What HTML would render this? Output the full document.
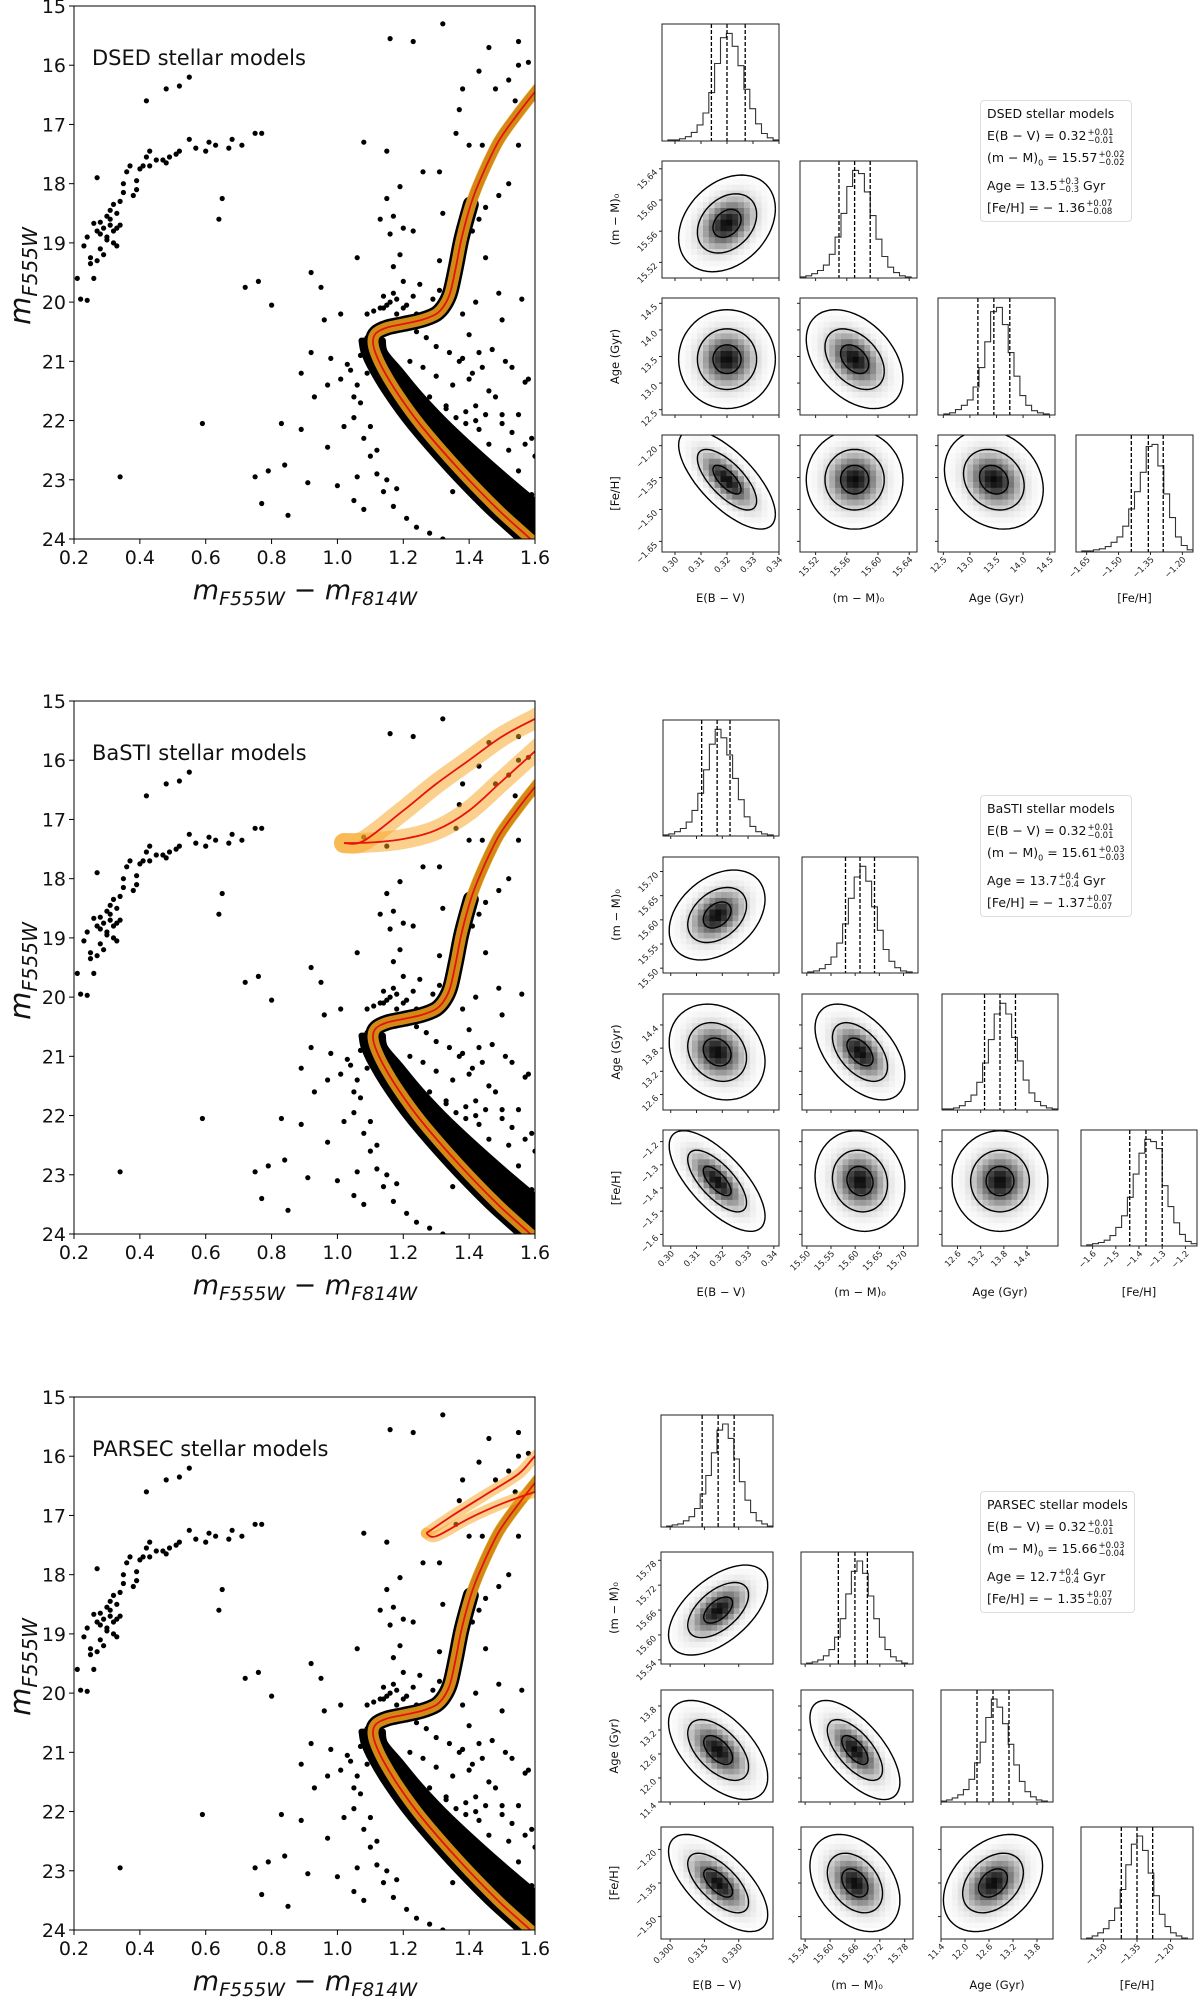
<!DOCTYPE html>
<html><head><meta charset="utf-8">
<style>
body{margin:0;background:#fff;}
#wrap{position:relative;width:1200px;height:2005px;overflow:hidden;font-family:"DejaVu Sans","Liberation Sans",sans-serif;}
svg{position:absolute;left:0;top:0;}
.leg{position:absolute;border:1px solid #ddd;border-radius:4px;padding:2px 6px;font-size:12.5px;line-height:22px;color:#111;background:#fff;}
.ss{display:inline-block;vertical-align:middle;font-size:8.5px;line-height:8px;margin-left:1px;}
.ss span{display:block;}
</style></head>
<body>
<div id="wrap">
<svg id="fig" width="1200" height="2005" xmlns="http://www.w3.org/2000/svg"></svg>

<div class="leg" style="left:980px;top:100px;">
<div>DSED stellar models</div>
<div>E(B − V) = 0.32<span class="ss"><span>+0.01</span><span>−0.01</span></span></div>
<div>(m − M)<sub style="font-size:8px">0</sub> = 15.57<span class="ss"><span>+0.02</span><span>−0.02</span></span></div>
<div>Age = 13.5<span class="ss"><span>+0.3</span><span>−0.3</span></span> Gyr</div>
<div>[Fe/H] = − 1.36<span class="ss"><span>+0.07</span><span>−0.08</span></span></div>
</div>
<div class="leg" style="left:980px;top:795px;">
<div>BaSTI stellar models</div>
<div>E(B − V) = 0.32<span class="ss"><span>+0.01</span><span>−0.01</span></span></div>
<div>(m − M)<sub style="font-size:8px">0</sub> = 15.61<span class="ss"><span>+0.03</span><span>−0.03</span></span></div>
<div>Age = 13.7<span class="ss"><span>+0.4</span><span>−0.4</span></span> Gyr</div>
<div>[Fe/H] = − 1.37<span class="ss"><span>+0.07</span><span>−0.07</span></span></div>
</div>
<div class="leg" style="left:980px;top:1491px;">
<div>PARSEC stellar models</div>
<div>E(B − V) = 0.32<span class="ss"><span>+0.01</span><span>−0.01</span></span></div>
<div>(m − M)<sub style="font-size:8px">0</sub> = 15.66<span class="ss"><span>+0.03</span><span>−0.04</span></span></div>
<div>Age = 12.7<span class="ss"><span>+0.4</span><span>−0.4</span></span> Gyr</div>
<div>[Fe/H] = − 1.35<span class="ss"><span>+0.07</span><span>−0.07</span></span></div>
</div>
</div>
<script>
// ---------- CMD data ----------
const isoColor = [1.62,1.586,1.489,1.372,1.256,1.186,1.14,1.115,1.108,1.118,1.15,1.2,1.256,1.3,1.325,1.343,1.36,1.378,1.405,1.437,1.489,1.548,1.6,1.63];
const isoMag   = [24.2,24.0,23.51,22.84,22.1,21.57,21.15,20.85,20.65,20.52,20.43,20.37,20.3,20.2,20.05,19.83,19.4,18.9,18.35,17.89,17.29,16.82,16.45,16.25];
const bastiBranchAColor = [1.02,1.1,1.2,1.3,1.4,1.5,1.6,1.65];
const bastiBranchAMag   = [17.4,17.39,17.33,17.18,16.85,16.35,15.85,15.6];
const bastiBranchBColor = [1.02,1.08,1.2,1.3,1.4,1.5,1.6,1.65];
const bastiBranchBMag   = [17.4,17.36,16.85,16.4,16.0,15.6,15.3,15.15];
const parsecBranchAColor = [1.27,1.35,1.45,1.55,1.6,1.65];
const parsecBranchAMag   = [17.3,17.0,16.65,16.3,16.0,15.8];
const parsecBranchBColor = [1.27,1.3,1.4,1.5,1.6,1.65];
const parsecBranchBMag   = [17.3,17.35,17.05,16.8,16.6,16.5];
const starColor = [0.21,0.22,0.24,0.23,0.24,0.25,0.26,0.26,0.27,0.27,0.28,0.28,0.29,0.29,0.30,0.30,0.31,0.31,0.32,0.32,0.33,0.33,0.34,0.34,0.35,0.35,0.36,0.37,0.38,0.39,0.39,0.40,0.41,0.42,0.43,0.43,0.45,0.47,0.48,0.49,0.51,0.52,0.55,0.57,0.60,0.61,0.63,0.67,0.68,0.71,0.75,0.77,0.42,0.48,0.52,0.55,0.25,0.27,0.30,0.31,0.33,0.28,0.32,
0.34,0.59,0.64,0.65,0.72,0.76,0.80,0.75,0.77,0.79,0.83,0.84,0.85,0.89,0.89,0.91,0.92,0.92,0.93,0.95,0.96,0.97,0.97,0.98,1.0,1.01,1.01,1.02,1.05,1.06,1.06,1.08,1.08,1.09,1.13,1.15,1.15,1.16,1.16,1.17,1.19,1.2,1.23,1.23,1.26,1.32,1.31,1.32,1.36,1.37,1.38,1.40,1.43,1.44,1.46,1.48,1.49,1.5,1.52,1.54,1.55,1.55,1.56,1.58,1.55,1.45,1.47,1.43,1.38,1.40,1.35,1.30,1.28,1.33,1.42,1.48,1.50,1.55,1.58,1.59,1.52,1.46,1.43,1.39,1.36,1.55,1.59,1.57,1.30,1.26,1.22,1.20,1.18,1.16,1.14,1.23,1.25,1.29,1.40,1.38,1.42,1.46,1.53,1.57,1.12,1.10,1.05,1.03,1.15,1.18,1.07,1.09,1.21,1.24,1.27,1.34,1.37,1.41,1.44,1.51,1.35,1.31,1.19,1.17,
1.04,1.06,1.07,1.05,1.08,1.10,1.12,1.14,1.17,1.21,1.24,1.28,1.32,1.35,1.39,1.42,1.45,1.48,1.50,1.53,1.56,1.58,1.33,1.30,1.27,1.29,1.32,1.35,1.37,1.40,1.34,1.31,1.36,1.38,1.41,1.43,1.45,1.49,1.52,1.09,1.11,1.13,1.15,1.20,1.18,1.21,1.14,1.17,1.26,1.24,1.28,1.45,1.50,1.53,1.57,1.60,1.36,1.39,1.42];
const starMag = [19.6,19.95,19.97,19.05,18.9,19.35,19.6,18.67,17.9,18.8,19.1,18.65,18.75,19.2,18.55,18.9,18.45,18.7,18.35,18.8,18.5,19.05,18.3,18.7,18.0,18.15,17.8,17.7,18.2,17.95,18.1,17.75,17.7,17.55,17.45,17.7,17.6,17.6,17.65,17.55,17.5,17.45,17.25,17.4,17.45,17.3,17.35,17.4,17.25,17.35,17.15,17.15,16.6,16.4,16.35,16.2,19.25,19.3,18.95,18.6,18.75,18.85,19.0,
22.95,22.05,18.6,18.25,19.75,19.65,20.05,22.95,23.4,22.85,22.05,22.75,23.6,21.2,22.15,23.05,19.5,20.85,21.6,19.75,20.3,21.4,22.45,20.95,23.1,20.2,21.3,22.1,23.35,19.25,22.95,17.3,23.5,20.6,18.6,17.45,18.25,15.55,18.85,18.55,18.05,18.75,15.6,18.8,17.8,15.3,17.8,18.5,17.15,16.75,16.4,17.35,16.1,17.35,15.7,16.4,19.85,20.3,16.25,16.6,15.6,16.0,19.95,15.95,17.35,19.25,20.8,20.85,20.95,21.3,21.4,21.25,21.6,21.75,21.75,21.6,21.9,21.9,21.3,22.3,22.5,22.4,22.15,22.05,22.3,22.85,23.25,23.5,20.75,21.1,21.0,19.65,19.95,20.0,20.1,19.9,19.7,19.95,20.55,20.2,20.0,21.5,21.1,21.35,22.5,22.1,21.6,21.05,23.0,23.15,20.9,21.2,20.45,20.5,20.6,20.85,21.0,21.2,21.1,21.0,19.5,19.3,19.2,19.4,
21.15,21.4,21.7,21.95,22.3,22.6,22.9,23.2,23.45,23.65,23.8,23.9,24.0,23.2,23.0,22.6,22.8,23.1,23.4,23.6,23.7,23.85,21.8,21.9,22.05,22.4,22.7,22.9,22.55,22.75,19.6,19.8,19.3,19.0,18.8,18.6,18.4,18.2,18.0,20.2,20.15,20.1,20.05,20.1,20.2,20.05,19.9,19.85,20.25,20.2,20.3,21.9,22.05,22.2,22.4,22.6,21.95,21.85,22.0];

// ---------- corner data (per model) ----------
const paramNames = ["E(B − V)","(m − M)₀","Age (Gyr)","[Fe/H]"];
const rangeLo_DSED = [0.295,15.50,12.4,-1.70];
const rangeHi_DSED = [0.340,15.65,14.6,-1.15];
const rangeLo_BaSTI = [0.297,15.49,12.2,-1.65];
const rangeHi_BaSTI = [0.342,15.73,15.2,-1.15];
const rangeLo_PARSEC = [0.296,15.53,11.4,-1.60];
const rangeHi_PARSEC = [0.345,15.80,14.2,-1.10];
const ticks_DSED = [["0.30","0.31","0.32","0.33","0.34"],["15.52","15.56","15.60","15.64"],["12.5","13.0","13.5","14.0","14.5"],["−1.65","−1.50","−1.35","−1.20"]];
const ticks_BaSTI = [["0.30","0.31","0.32","0.33","0.34"],["15.50","15.55","15.60","15.65","15.70"],["12.6","13.2","13.8","14.4"],["−1.6","−1.5","−1.4","−1.3","−1.2"]];
const ticks_PARSEC = [["0.300","0.315","0.330"],["15.54","15.60","15.66","15.72","15.78"],["11.4","12.0","12.6","13.2","13.8"],["−1.50","−1.35","−1.20"]];
const mean_DSED = [0.320,15.570,13.45,-1.36];
const sigma_DSED = [0.006,0.020,0.30,0.075];
const corr_DSED = [0.3,0.0,-0.4,-0.7,0.0,-0.2]; // (0,1)(0,2)(1,2)(0,3)(1,3)(2,3)
const mean_BaSTI = [0.318,15.61,13.7,-1.37];
const sigma_BaSTI = [0.006,0.030,0.40,0.070];
const corr_BaSTI = [0.35,-0.2,-0.5,-0.7,-0.1,0.0];
const mean_PARSEC = [0.321,15.66,12.7,-1.35];
const sigma_PARSEC = [0.007,0.035,0.40,0.070];
const corr_PARSEC = [0.55,-0.55,-0.65,-0.65,-0.35,0.35];
const q16_DSED=[0.314,15.550,13.15,-1.44], q50_DSED=[0.320,15.570,13.45,-1.36], q84_DSED=[0.327,15.590,13.75,-1.29];
const q16_BaSTI=[0.312,15.580,13.3,-1.44], q50_BaSTI=[0.318,15.610,13.7,-1.37], q84_BaSTI=[0.323,15.640,14.1,-1.30];
const q16_PARSEC=[0.314,15.620,12.3,-1.42], q50_PARSEC=[0.321,15.660,12.7,-1.35], q84_PARSEC=[0.328,15.690,13.1,-1.28];
const hist_DSED = [[0,1,1,2,4,8,15,26,45,72,96,100,88,70,48,30,16,7,3,1],[1,2,4,7,12,22,38,60,85,100,97,80,58,36,20,10,5,2,1,0],[0,1,2,5,9,14,26,44,68,96,100,84,58,36,18,9,4,2,1,0],[0,1,1,2,3,5,9,14,24,40,56,74,98,100,80,54,32,14,6,2]];
const hist_BaSTI = [[1,2,4,7,13,24,40,62,86,100,92,76,54,34,18,9,4,2,1,0],[0,1,2,4,8,15,28,46,70,90,100,86,62,40,22,11,5,2,1,0],[1,1,2,4,8,14,26,44,66,90,100,90,68,46,28,16,8,4,2,1],[0,1,2,3,5,9,16,26,42,62,80,92,90,84,52,34,20,10,4,2]];
const hist_PARSEC = [[0,1,2,3,6,10,18,32,50,72,94,100,86,66,44,26,14,6,3,1],[0,1,2,4,8,14,26,44,68,90,100,88,66,44,26,14,7,3,1,0],[1,2,4,7,12,22,38,58,82,100,92,76,56,36,20,10,5,2,1,0],[0,1,3,6,10,18,30,48,72,92,100,86,64,42,24,12,6,3,1,0]];

const NS="http://www.w3.org/2000/svg";
const svg=document.getElementById('fig');
function mk(tag,attrs,parent){const e=document.createElementNS(NS,tag);for(const k in attrs)e.setAttribute(k,attrs[k]);(parent||svg).appendChild(e);return e;}
function smoothPath(pts){
 if(pts.length<2)return '';
 let d='M'+pts[0][0].toFixed(1)+','+pts[0][1].toFixed(1);
 for(let i=0;i<pts.length-1;i++){
  const p0=pts[Math.max(0,i-1)],p1=pts[i],p2=pts[i+1],p3=pts[Math.min(pts.length-1,i+2)];
  const c1=[p1[0]+(p2[0]-p0[0])/6,p1[1]+(p2[1]-p0[1])/6];
  const c2=[p2[0]-(p3[0]-p1[0])/6,p2[1]-(p3[1]-p1[1])/6];
  d+='C'+c1[0].toFixed(1)+','+c1[1].toFixed(1)+' '+c2[0].toFixed(1)+','+c2[1].toFixed(1)+' '+p2[0].toFixed(1)+','+p2[1].toFixed(1);
 }
 return d;
}

// ---------- CMD panels ----------
const cmdL=74,cmdR=535,cmdH=533;
const models=[
 {key:'dsed',label:'DSED stellar models',top:6,branches:[]},
 {key:'basti',label:'BaSTI stellar models',top:701,branches:[[bastiBranchAColor,bastiBranchAMag],[bastiBranchBColor,bastiBranchBMag]]},
 {key:'parsec',label:'PARSEC stellar models',top:1397,branches:[[parsecBranchAColor,parsecBranchAMag],[parsecBranchBColor,parsecBranchBMag]]}
];
models.forEach((m,pi)=>{
 const top=m.top;
 const sx=c=>cmdL+(c-0.2)/1.4*(cmdR-cmdL);
 const sy=v=>top+(v-15)/9*cmdH;
 const g=mk('g',{});
 
 
 const cp=mk('clipPath',{id:'cmdclip'+pi},g);
 mk('rect',{x:cmdL,y:top,width:cmdR-cmdL,height:cmdH},cp);
 const plot=mk('g',{'clip-path':'url(#cmdclip'+pi+')'},g);
 const pathFrom=(cs,ms,off,filt)=>{const pts=[];for(let i=0;i<cs.length;i++){if(filt&&!filt(ms[i]))continue;pts.push([sx(cs[i]+off),sy(ms[i])]);}return smoothPath(pts);};
 const leftPts=[],rightPts=[];
 for(let i=0;i<isoColor.length;i++){
  const v=isoMag[i]; if(v<20.55)continue;
  const rOff=v>20.9?0.04+0.04*(v-20.9):0.03;
  leftPts.push([sx(isoColor[i]-0.035),sy(v)]);
  rightPts.push([sx(isoColor[i]+rOff),sy(v)]);
 }
 const lp=smoothPath(leftPts), rp=smoothPath(rightPts.slice().reverse()).replace(/^M/,'L');
 let e=mk('path',{d:lp+rp+'Z',fill:'#000',stroke:'#000','stroke-width':6,'stroke-linejoin':'round'},plot);
  
 e=mk('path',{d:pathFrom(isoColor,isoMag,0,v=>v<=20.9&&v>=18.3),fill:'none',stroke:'#000','stroke-width':16,'stroke-linejoin':'round','stroke-linecap':'round'},plot);
  
 e=mk('path',{d:pathFrom(isoColor,isoMag,0,v=>v<=18.6),fill:'none',stroke:'#000','stroke-width':10,'stroke-linejoin':'round'},plot);
  
 for(let i=0;i<starColor.length;i++){
  const c=mk('circle',{cx:sx(starColor[i]).toFixed(1),cy:sy(starMag[i]).toFixed(1),r:2.6,fill:'#000'},plot);
  
  
 }
 const all=[[isoColor,isoMag]].concat(m.branches);
 all.forEach((b,bi)=>{
  const w=bi===0?11:(m.key==='basti'?20:11);
  const ob=mk('path',{d:pathFrom(b[0],b[1],0),fill:'none',stroke:'#f7a21b','stroke-width':w,'stroke-opacity':bi===0?0.85:0.5,'stroke-linejoin':'round','stroke-linecap':'round'},plot);
  
  
 });
 all.forEach(b=>{
  const rl=mk('path',{d:pathFrom(b[0],b[1],0),fill:'none',stroke:'#e8120c','stroke-width':1.8,'stroke-linejoin':'round'},plot);
  
  
 });
 e=mk('rect',{x:cmdL,y:top,width:cmdR-cmdL,height:cmdH,fill:'none',stroke:'#000','stroke-width':1},g);
  
 for(let v=15;v<=24;v++){
  mk('line',{x1:cmdL-5,x2:cmdL,y1:sy(v),y2:sy(v),stroke:'#000'},g);
  const t=mk('text',{x:cmdL-8,y:sy(v)+7,'text-anchor':'end','font-size':19,fill:'#111'},g);
  t.textContent=v;
   
 }
 ['0.2','0.4','0.6','0.8','1.0','1.2','1.4','1.6'].forEach(s=>{
  const c=parseFloat(s);
  mk('line',{x1:sx(c),x2:sx(c),y1:top+cmdH,y2:top+cmdH+5,stroke:'#000'},g);
  const t=mk('text',{x:sx(c),y:top+cmdH+25,'text-anchor':'middle','font-size':19,fill:'#111'},g);
  t.textContent=s;
   
 });
 let t=mk('text',{x:92,y:top+59,'font-size':21,fill:'#111'},g);
 t.textContent=m.label;
  
 t=mk('text',{x:305,y:top+cmdH+60,'text-anchor':'middle','font-size':27,'font-style':'italic',fill:'#111'},g);
 t.innerHTML='m<tspan font-size="19" dy="6">F555W</tspan><tspan dy="-6" font-style="normal"> − </tspan>m<tspan font-size="19" dy="6">F814W</tspan>';
  
 t=mk('text',{x:0,y:0,'text-anchor':'middle','font-size':29,'font-style':'italic',fill:'#111',transform:'translate(30,'+(top+270)+') rotate(-90)'},g);
 t.innerHTML='m<tspan font-size="20" dy="7">F555W</tspan>';
  
});

// ---------- corner plots ----------
const corners=[
 {key:'dsed',cols:[662,800,938,1076],rows:[24,161,298,435],s:117,lo:rangeLo_DSED,hi:rangeHi_DSED,ticks:ticks_DSED,mean:mean_DSED,sig:sigma_DSED,corr:corr_DSED,q16:q16_DSED,q50:q50_DSED,q84:q84_DSED,hist:hist_DSED},
 {key:'basti',cols:[663,802,942,1081],rows:[720,857,994,1130],s:116,lo:rangeLo_BaSTI,hi:rangeHi_BaSTI,ticks:ticks_BaSTI,mean:mean_BaSTI,sig:sigma_BaSTI,corr:corr_BaSTI,q16:q16_BaSTI,q50:q50_BaSTI,q84:q84_BaSTI,hist:hist_BaSTI},
 {key:'parsec',cols:[661,801,941,1081],rows:[1415,1552,1690,1827],s:112,lo:rangeLo_PARSEC,hi:rangeHi_PARSEC,ticks:ticks_PARSEC,mean:mean_PARSEC,sig:sigma_PARSEC,corr:corr_PARSEC,q16:q16_PARSEC,q50:q50_PARSEC,q84:q84_PARSEC,hist:hist_PARSEC}
];
const corrIdx={'0,1':0,'0,2':1,'1,2':2,'0,3':3,'1,3':4,'2,3':5};
corners.forEach((C,ci)=>{
 const S=C.s;
 const g=mk('g',{});
 
 
 for(let i=0;i<4;i++)for(let j=0;j<=i;j++){
  const x0=C.cols[j],y0=C.rows[i];
  const ax=v=>x0+(v-C.lo[j])/(C.hi[j]-C.lo[j])*S;
  const ay=v=>y0+S-(v-C.lo[i])/(C.hi[i]-C.lo[i])*S;
  const cg=mk('g',{},g);
  
  
  const clipId='cc'+ci+'_'+i+'_'+j;
  const cp=mk('clipPath',{id:clipId},cg);
  mk('rect',{x:x0,y:y0,width:S,height:S},cp);
  const inner=mk('g',{'clip-path':'url(#'+clipId+')'},cg);
  if(i===j){
   const h=C.hist[i];const mx=Math.max(...h);const n=h.length;
   let d='M'+x0+','+(y0+S);
   for(let b=0;b<n;b++){const xa=x0+b/n*S,xb=x0+(b+1)/n*S,yy=y0+S-h[b]/mx*S*0.92;d+='L'+xa.toFixed(1)+','+yy.toFixed(1)+'L'+xb.toFixed(1)+','+yy.toFixed(1);}
   d+='L'+(x0+S)+','+(y0+S);
   const p=mk('path',{d:d,fill:'none',stroke:'#333','stroke-width':1.1},inner);
    
   [C.q16[i],C.q50[i],C.q84[i]].forEach(q=>{
    const l=mk('line',{x1:ax(q),x2:ax(q),y1:y0,y2:y0+S,stroke:'#000','stroke-width':1.3,'stroke-dasharray':'4,2'},inner);
     
   });
  } else {
   const rho=C.corr[corrIdx[j+','+i]];
   const mxv=C.mean[j],myv=C.mean[i],sxv=C.sig[j],syv=C.sig[i];
   const N=20;
   for(let a=0;a<N;a++)for(let b=0;b<N;b++){
    const vx=C.lo[j]+(a+0.5)/N*(C.hi[j]-C.lo[j]);
    const vy=C.lo[i]+(b+0.5)/N*(C.hi[i]-C.lo[i]);
    const zx=(vx-mxv)/sxv,zy=(vy-myv)/syv;
    const q=(zx*zx-2*rho*zx*zy+zy*zy)/(1-rho*rho);
    const v=Math.exp(-0.5*q/1.3);
    if(v<0.03)continue;
    const gr=Math.round(255-245*Math.pow(v,1.3));
    const r=mk('rect',{x:(x0+a/N*S).toFixed(1),y:(y0+S-(b+1)/N*S).toFixed(1),width:(S/N+0.3).toFixed(1),height:(S/N+0.3).toFixed(1),fill:'rgb('+gr+','+gr+','+gr+')'},inner);
     
   }
   [0.9,1.9,3.1].forEach(lev=>{
    let d='';
    for(let k=0;k<=60;k++){const t=k/60*2*Math.PI;const ex=mxv+sxv*lev*Math.cos(t);const ey=myv+syv*lev*(rho*Math.cos(t)+Math.sqrt(1-rho*rho)*Math.sin(t));d+=(k?'L':'M')+ax(ex).toFixed(1)+','+ay(ey).toFixed(1);}
    const p=mk('path',{d:d,fill:'none',stroke:'#000','stroke-width':1.4},inner);
     
   });
  }
  const fr=mk('rect',{x:x0,y:y0,width:S,height:S,fill:'none',stroke:'#222','stroke-width':1},cg);
   
  C.ticks[j].forEach(s=>{
   const v=parseFloat(s.replace('−','-'));const X=ax(v);
   mk('line',{x1:X,x2:X,y1:y0+S,y2:y0+S+3,stroke:'#222'},cg);
   if(i===3){
    const t=mk('text',{x:0,y:0,'text-anchor':'end','font-size':8.5,fill:'#222',transform:'translate('+(X+4)+','+(y0+S+8)+') rotate(-45)'},cg);
    t.textContent=s;
     
   }
  });
  if(i!==j){
   C.ticks[i].forEach(s=>{
    const v=parseFloat(s.replace('−','-'));const Y=ay(v);
    mk('line',{x1:x0-3,x2:x0,y1:Y,y2:Y,stroke:'#222'},cg);
    if(j===0){
     const t=mk('text',{x:0,y:0,'text-anchor':'end','font-size':8.5,fill:'#222',transform:'translate('+(x0-4)+','+(Y+4)+') rotate(-45)'},cg);
     t.textContent=s;
      
    }
   });
  }
  if(i===3){
   const t=mk('text',{x:x0+S/2,y:y0+S+50,'text-anchor':'middle','font-size':11.5,fill:'#111'},cg);
   t.textContent=paramNames[j];
    
  }
  if(j===0&&i>0){
   const t=mk('text',{x:0,y:0,'text-anchor':'middle','font-size':11.5,fill:'#111',transform:'translate('+(x0-43)+','+(y0+S/2)+') rotate(-90)'},cg);
   t.textContent=paramNames[i];
    
  }
 }
});
</script>
</body></html>
